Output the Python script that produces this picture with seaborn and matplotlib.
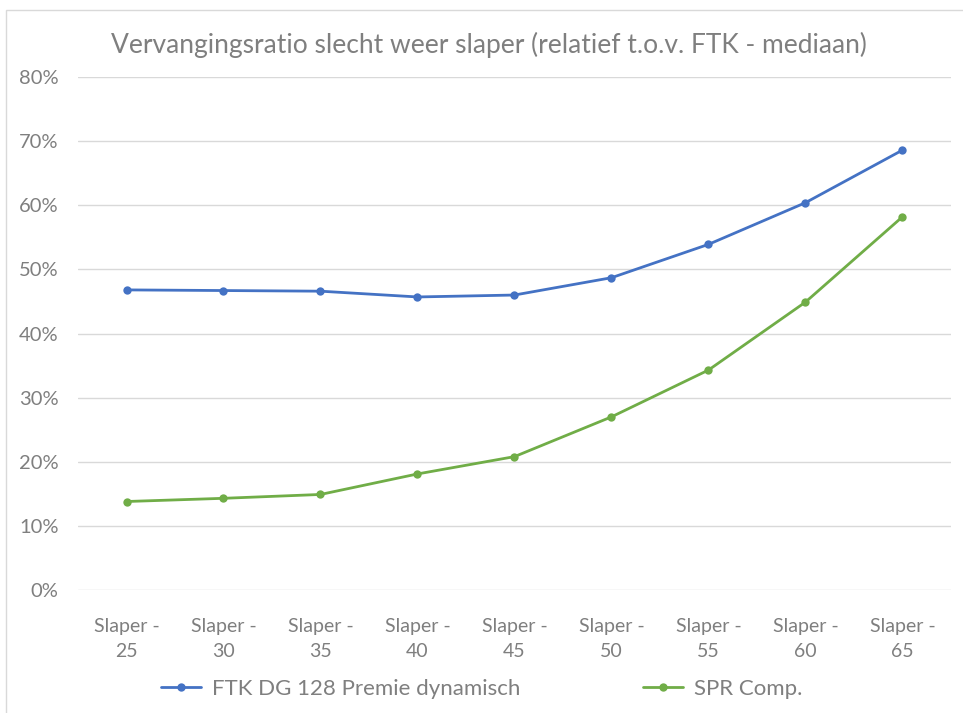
import pandas as pd
import seaborn as sns
import matplotlib.pyplot as plt
from matplotlib.patches import Rectangle
from matplotlib.lines import Line2D
from matplotlib.ticker import PercentFormatter

categories = ['Slaper -\n25', 'Slaper -\n30', 'Slaper -\n35', 'Slaper -\n40', 'Slaper -\n45',
              'Slaper -\n50', 'Slaper -\n55', 'Slaper -\n60', 'Slaper -\n65']
ftk = [0.468, 0.467, 0.466, 0.457, 0.460, 0.487, 0.539, 0.604, 0.686]
spr = [0.138, 0.143, 0.149, 0.181, 0.208, 0.270, 0.343, 0.449, 0.582]
series_names = ['FTK DG 128 Premie dynamisch', 'SPR Comp.']
colors = ['#4472C4', '#70AD47']

data = pd.DataFrame({
    'cat': categories * 2,
    'value': ftk + spr,
    'serie': [series_names[0]] * len(categories) + [series_names[1]] * len(categories),
})

sns.set_style('white')
plt.rcParams['font.family'] = ['Lato', 'DejaVu Sans']
grey = '#7f7f7f'

fig = plt.figure(figsize=(9.63, 7.13), dpi=100)
ax = fig.add_axes([0.081, 0.1725, 0.9065, 0.7195])

sns.lineplot(data=data, x='cat', y='value', hue='serie', palette=colors,
             marker='o', markersize=6, markeredgewidth=0, linewidth=2,
             sort=False, legend=False, ax=ax)

ax.set_ylim(0, 0.8)
ax.set_xlim(-0.5, len(categories) - 0.5)
ax.set_yticks([i / 10 for i in range(9)])
ax.yaxis.set_major_formatter(PercentFormatter(1.0, decimals=0))
ax.grid(axis='y', color='#d9d9d9', linewidth=1)
ax.set_axisbelow(True)
for s in ax.spines.values():
    s.set_visible(False)
ax.tick_params(axis='both', length=0, labelcolor=grey)
ax.tick_params(axis='y', labelsize=14.5, pad=14)
ax.tick_params(axis='x', labelsize=14, pad=20)
for lbl in ax.get_xticklabels():
    lbl.set_linespacing(1.6)
ax.set_xlabel('')
ax.set_ylabel('')

fig.text(0.508, 0.937, 'Vervangingsratio slecht weer slaper (relatief t.o.v. FTK - mediaan)',
         ha='center', va='center', fontsize=19, color=grey)

handles = [Line2D([], [], color=c, marker='o', markersize=6, markeredgewidth=0, linewidth=2)
           for c in colors]
fig.legend(handles, series_names, loc='center', bbox_to_anchor=(0.5, 0.034), ncol=2,
           frameon=False, fontsize=16, labelcolor=grey, handlelength=1.8,
           columnspacing=5.5, handletextpad=0.5)

fig.patches.append(Rectangle((6 / 963, -0.1), 1.2, 1.1 - 10.5 / 713,
                             transform=fig.transFigure, fill=False,
                             edgecolor='#d9d9d9', linewidth=1))

plt.savefig('out.png', dpi=100)
